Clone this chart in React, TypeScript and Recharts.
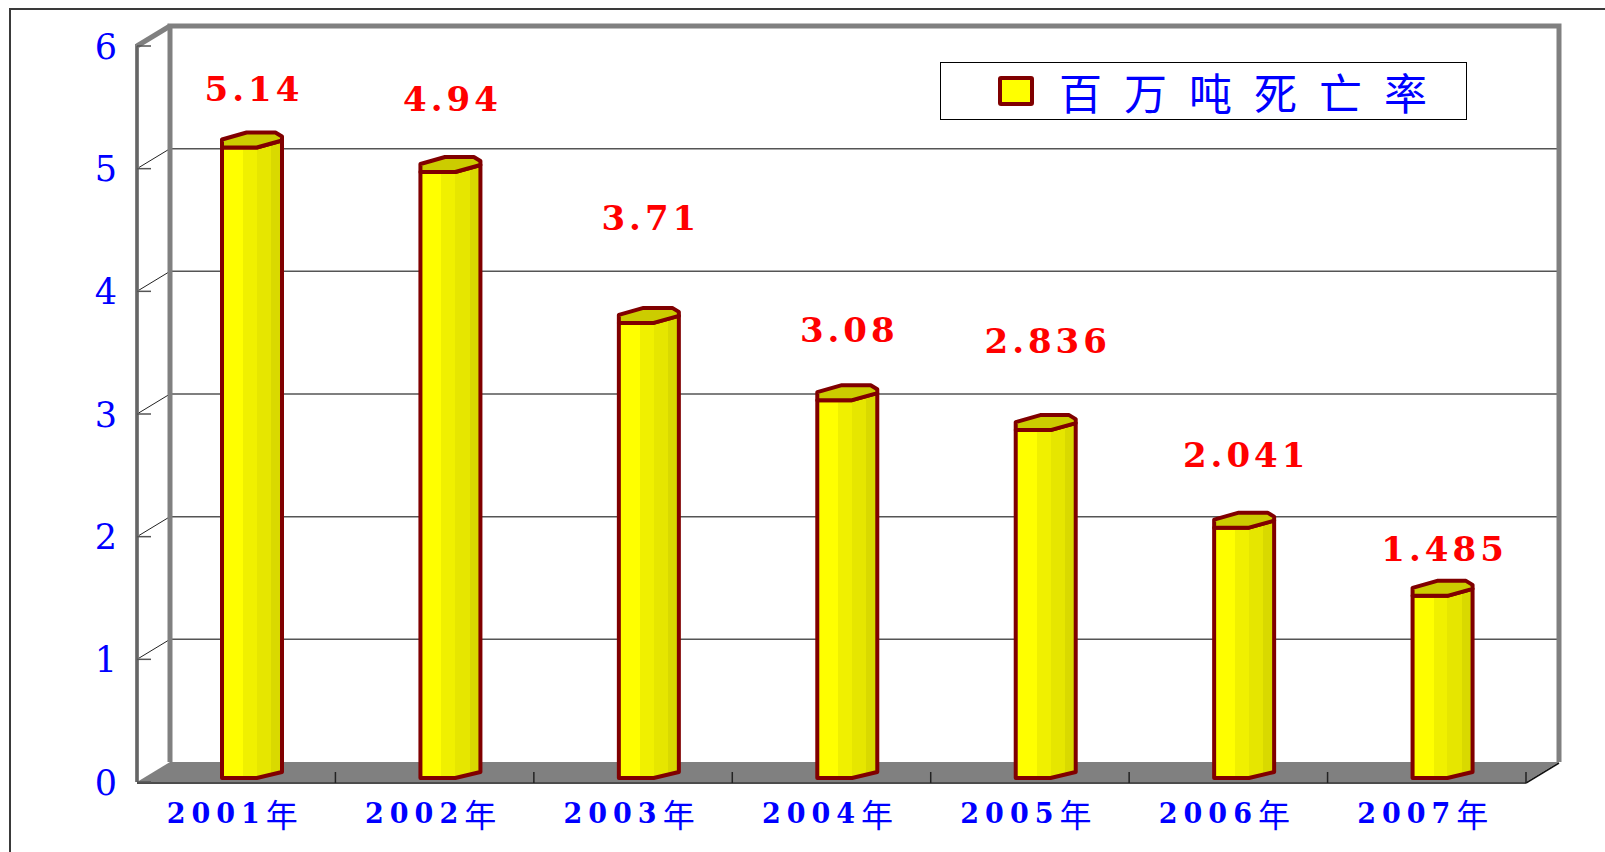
import {
  Bar,
  BarChart,
  CartesianGrid,
  LabelList,
  Legend,
  ReferenceArea,
  XAxis,
  YAxis,
} from 'recharts'

const years = ['2001年', '2002年', '2003年', '2004年', '2005年', '2006年', '2007年']
const deathRate = [5.14, 4.94, 3.71, 3.08, 2.836, 2.041, 1.485]
const yTicks = [0, 1, 2, 3, 4, 5, 6]
const seriesName = '百万吨死亡率'

// value labels were dragged by hand in the original, px above each bar top
const labelLift = [58, 73, 105, 70, 89, 73, 47]

const data = years.map((year, i) => ({ year, rate: deathRate[i] }))

const DEPTH_X = 33
const DEPTH_Y = -20
const BAR_SHIFT_X = 16
const BAR_SHIFT_Y = -4
const WALL = '#808080'
const OUTLINE = '#800000'
const BLUE = '#0000ff'
const SERIF = "'DejaVu Serif', 'Liberation Serif', serif"

function CylinderBar(props: any) {
  const { x, y, width: w, height: h } = props
  if (!w || h == null) return null
  const x0 = x + BAR_SHIFT_X
  const x1 = x0 + w
  const yt = y + BAR_SHIFT_Y
  const yb = y + h + BAR_SHIFT_Y
  const xm = x0 + w * 0.58
  const front = `M${x0},${yt} L${xm},${yt} L${x1},${yt - 7} L${x1},${yb - 6} L${xm},${yb} L${x0},${yb} Z`
  const top = `M${x0},${yt} L${x0},${yt - 8} L${x0 + w * 0.41},${yt - 15} L${x0 + w * 0.89},${yt - 15} L${x1},${yt - 11} L${x1},${yt - 7} L${xm},${yt} Z`
  return (
    <g>
      <path d={front} fill="url(#barFace)" stroke={OUTLINE} strokeWidth={4} strokeLinejoin="round" />
      <path d={top} fill="#cccc00" stroke={OUTLINE} strokeWidth={4} strokeLinejoin="round" />
    </g>
  )
}

function RateLabel(props: any) {
  const vb = props.viewBox || props
  const { x, y, width } = vb
  const idx = props.index != null ? props.index : deathRate.indexOf(Number(props.value))
  return (
    <text
      x={x + width / 2 + BAR_SHIFT_X}
      y={y + BAR_SHIFT_Y - (labelLift[idx] ?? 50)}
      dx={2}
      textAnchor="middle"
      dominantBaseline="central"
      fill="#ff0000"
      fontSize={34}
      fontWeight="bold"
      fontFamily={SERIF}
      letterSpacing={4}
    >
      {props.value}
    </text>
  )
}

function YTick(props: any) {
  const { x, y, payload } = props
  return (
    <g>
      <line x1={x + 20} y1={y} x2={x + 34} y2={y} stroke="#555" strokeWidth={1.5} />
      <text x={x} y={y} dy="0.36em" textAnchor="end" fill={BLUE} fontSize={35} fontFamily={SERIF}>
        {payload.value}
      </text>
    </g>
  )
}

function XTick(props: any) {
  const { x, y, payload } = props
  const label = String(payload.value)
  return (
    <text
      x={x - 4}
      y={y + 31}
      dx={3}
      textAnchor="middle"
      dominantBaseline="central"
      fill={BLUE}
      fontSize={27}
      fontWeight="bold"
      fontFamily={SERIF}
      letterSpacing={6}
    >
      {label.slice(0, -1)}
      <tspan fontSize={32} fontWeight="normal" fontFamily="'Noto Sans CJK SC', sans-serif">
        {label.slice(-1)}
      </tspan>
    </text>
  )
}

// back wall line + left wall diagonal for each gridline
function WallGridLine(props: any) {
  const { x1, y1, x2 } = props
  return (
    <g key={props.key}>
      <line x1={x1} y1={y1} x2={x1 + DEPTH_X} y2={y1 + DEPTH_Y} stroke="#222" strokeWidth={1} />
      <line x1={x1 + DEPTH_X + 2} y1={y1 + DEPTH_Y} x2={x2 + DEPTH_X - 2} y2={y1 + DEPTH_Y} stroke="#555" strokeWidth={1.5} />
    </g>
  )
}

function Walls(props: any) {
  const { x, y, width, height } = props
  const r = x + width
  const b = y + height
  const step = width / years.length
  return (
    <g>
      <polygon
        points={`${x},${b} ${x + DEPTH_X},${b + DEPTH_Y} ${r + DEPTH_X},${b + DEPTH_Y} ${r},${b}`}
        fill={WALL}
      />
      <polyline
        points={`${x + DEPTH_X},${b + DEPTH_Y} ${x + DEPTH_X},${y + DEPTH_Y} ${r + DEPTH_X},${y + DEPTH_Y} ${r + DEPTH_X},${b + DEPTH_Y}`}
        fill="none"
        stroke={WALL}
        strokeWidth={5}
      />
      <line x1={x} y1={y} x2={x + DEPTH_X} y2={y + DEPTH_Y} stroke={WALL} strokeWidth={5} />
      <line x1={x} y1={y - 2} x2={x} y2={b} stroke={WALL} strokeWidth={4} />
      <line x1={x} y1={y} x2={x} y2={b} stroke="#555" strokeWidth={1.2} />
      <line x1={x} y1={b + 1} x2={r} y2={b + 1} stroke="#111" strokeWidth={1.5} />
      <line x1={r} y1={b + 1} x2={r + DEPTH_X} y2={b + DEPTH_Y + 1} stroke="#111" strokeWidth={1.5} />
      {years.map((_, i) => (
        <line
          key={i}
          x1={x + step * (i + 1)}
          y1={b + 1}
          x2={x + step * (i + 1)}
          y2={b - 10}
          stroke="#222"
          strokeWidth={1.5}
        />
      ))}
    </g>
  )
}

function LegendBox(props: any) {
  const entry = props.payload && props.payload[0]
  return (
    <div
      style={{
        boxSizing: 'border-box',
        width: 527,
        height: 58,
        border: '1.5px solid #000',
        background: '#fff',
        display: 'flex',
        alignItems: 'center',
        paddingLeft: 57,
      }}
    >
      <span
        style={{
          boxSizing: 'border-box',
          width: 36,
          height: 30,
          border: `4px solid ${OUTLINE}`,
          borderRadius: 3,
          background: '#ffff00',
        }}
      />
      <span
        style={{
          marginLeft: 25,
          color: BLUE,
          fontSize: 43,
          letterSpacing: 22,
          lineHeight: 1,
          fontFamily: '"Noto Sans CJK SC", sans-serif',
        }}
      >
        {entry ? entry.value : seriesName}
      </span>
    </div>
  )
}

export default function App() {
  return (
    <div style={{ position: 'fixed', left: 0, top: 0, width: 1605, height: 852, background: '#fff', overflow: 'hidden' }}>
      <div
        style={{
          position: 'absolute',
          left: 9,
          top: 8,
          width: 2000,
          height: 2000,
          border: '2px solid #3a3a3a',
          pointerEvents: 'none',
        }}
      />
      <BarChart
        width={1605}
        height={852}
        data={data}
        barSize={60}
        margin={{ top: 46, right: 79, bottom: 30, left: 77 }}
      >
        <defs>
          <linearGradient id="barFace" x1="0" y1="0" x2="1" y2="0">
            <stop offset="0%" stopColor="#ffff00" />
            <stop offset="35%" stopColor="#ffff00" />
            <stop offset="35%" stopColor="#f0f000" />
            <stop offset="58%" stopColor="#f0f000" />
            <stop offset="58%" stopColor="#e6e600" />
            <stop offset="82%" stopColor="#e6e600" />
            <stop offset="82%" stopColor="#d9d900" />
            <stop offset="100%" stopColor="#d9d900" />
          </linearGradient>
        </defs>
        <CartesianGrid
          vertical={false}
          horizontalValues={[1, 2, 3, 4, 5]}
          horizontal={(p: any) => <WallGridLine {...p} />}
        />
        <XAxis
          dataKey="year"
          axisLine={false}
          tickLine={false}
          tickSize={0}
          tickMargin={0}
          height={40}
          interval={0}
          tick={(p: any) => <XTick {...p} />}
        />
        <YAxis
          domain={[0, 6]}
          ticks={yTicks}
          axisLine={false}
          tickLine={false}
          tickSize={0}
          tickMargin={20}
          width={60}
          interval={0}
          tick={(p: any) => <YTick {...p} />}
        />
        <ReferenceArea y1={0} y2={6} shape={(p: any) => <Walls {...p} />} />
        <Legend
          layout="horizontal"
          verticalAlign="middle"
          align="center"
          wrapperStyle={{ left: 940, top: 62, width: 527, height: 58 }}
          content={(p: any) => <LegendBox {...p} />}
        />
        <Bar dataKey="rate" name={seriesName} isAnimationActive={false} shape={(p: any) => <CylinderBar {...p} />}>
          <LabelList dataKey="rate" content={(p: any) => <RateLabel {...p} />} />
        </Bar>
      </BarChart>
    </div>
  )
}
